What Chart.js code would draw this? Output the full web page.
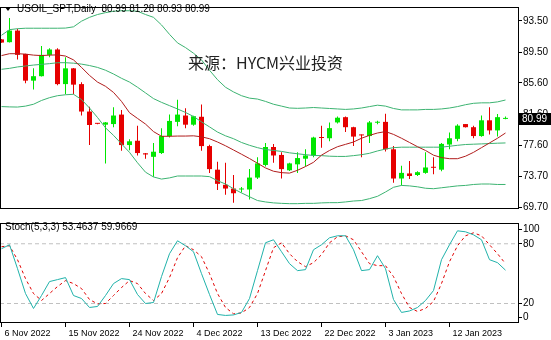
<!DOCTYPE html>
<html>
<head>
<meta charset="utf-8">
<script src="https://cdn.jsdelivr.net/npm/chart.js@4.4.1/dist/chart.umd.min.js"></script>
<style>
  html, body { margin: 0; padding: 0; background: #fff; }
  #wrap { position: relative; width: 551px; height: 340px; overflow: hidden; }
  #main { position: absolute; left: 0; top: 0; }
  #stoch { position: absolute; left: 0; top: 216px; }
</style>
</head>
<body>
<div id="wrap">
  <canvas id="main" width="551" height="216"></canvas>
  <canvas id="stoch" width="551" height="124"></canvas>
</div>
<script>
// дневные бары USOIL_SPT (с воскресными барами, как в MT4)
const dates = [
  "6 Nov 2022", "7 Nov 2022", "8 Nov 2022", "9 Nov 2022", "10 Nov 2022", "11 Nov 2022",
  "13 Nov 2022", "14 Nov 2022", "15 Nov 2022", "16 Nov 2022", "17 Nov 2022", "18 Nov 2022",
  "20 Nov 2022", "21 Nov 2022", "22 Nov 2022", "23 Nov 2022", "24 Nov 2022", "25 Nov 2022",
  "27 Nov 2022", "28 Nov 2022", "29 Nov 2022", "30 Nov 2022", "1 Dec 2022", "2 Dec 2022",
  "4 Dec 2022", "5 Dec 2022", "6 Dec 2022", "7 Dec 2022", "8 Dec 2022", "9 Dec 2022",
  "11 Dec 2022", "12 Dec 2022", "13 Dec 2022", "14 Dec 2022", "15 Dec 2022", "16 Dec 2022",
  "18 Dec 2022", "19 Dec 2022", "20 Dec 2022", "21 Dec 2022", "22 Dec 2022", "23 Dec 2022",
  "26 Dec 2022", "27 Dec 2022", "28 Dec 2022", "29 Dec 2022", "30 Dec 2022", "2 Jan 2023",
  "3 Jan 2023", "4 Jan 2023", "5 Jan 2023", "6 Jan 2023", "8 Jan 2023", "9 Jan 2023",
  "10 Jan 2023", "11 Jan 2023", "12 Jan 2023", "13 Jan 2023", "15 Jan 2023", "16 Jan 2023",
  "17 Jan 2023", "18 Jan 2023", "19 Jan 2023", "20 Jan 2023",
];

const open = [
  91.14, 90.78, 92.26, 89.28, 85.87, 86.44, 89.16, 89.85, 85.43, 87.44,
  85.43, 81.93, 80.42, 80.25, 80.33, 81.54, 77.65, 78.20, 76.60, 76.15,
  76.63, 78.80, 80.61, 81.42, 80.25, 81.26, 77.52, 74.51, 72.58, 72.10,
  71.98, 71.98, 73.50, 75.11, 77.40, 76.39, 74.43, 75.19, 75.91, 76.32,
  78.60, 78.52, 80.54, 81.21, 79.93, 78.95, 78.80, 80.50, 80.61, 77.11,
  73.38, 74.03, 73.83, 74.10, 74.80, 74.51, 77.72, 78.44, 80.33, 79.93,
  78.80, 80.81, 79.52, 80.99,
];
const high = [
  91.20, 93.86, 92.50, 89.30, 87.44, 90.30, 90.01, 90.01, 88.85, 87.50,
  85.67, 82.54, 80.45, 80.60, 82.46, 82.14, 78.40, 80.13, 76.63, 77.92,
  79.81, 81.54, 83.43, 82.34, 81.40, 82.83, 77.70, 75.51, 75.39, 73.83,
  72.30, 74.60, 76.11, 77.92, 77.80, 76.72, 75.40, 76.72, 77.10, 78.70,
  80.13, 80.54, 81.30, 81.30, 80.00, 79.00, 80.73, 80.75, 81.66, 77.52,
  75.00, 75.63, 74.30, 76.72, 76.11, 77.92, 79.25, 80.30, 80.35, 80.10,
  81.42, 82.46, 81.62, 81.28,
];
const low = [
  90.70, 90.75, 88.56, 85.55, 84.75, 86.40, 88.85, 85.27, 84.15, 84.15,
  81.42, 77.65, 80.30, 75.31, 79.93, 76.92, 77.00, 76.32, 75.91, 73.62,
  76.50, 78.61, 80.06, 79.81, 80.10, 76.92, 74.10, 71.90, 71.30, 70.30,
  71.60, 70.69, 73.31, 74.91, 75.39, 73.38, 74.35, 74.10, 74.91, 76.11,
  77.32, 78.13, 80.40, 79.33, 77.52, 76.11, 77.92, 80.30, 76.84, 72.83,
  72.50, 73.31, 73.70, 74.00, 73.91, 74.31, 77.11, 78.13, 79.90, 78.52,
  78.70, 79.01, 78.73, 80.93,
];
const close = [
  90.73, 92.26, 89.16, 85.87, 86.44, 89.16, 89.85, 85.43, 87.44, 85.36,
  81.93, 80.21, 80.36, 80.54, 81.42, 77.65, 78.13, 76.63, 76.45, 76.80,
  78.80, 80.73, 81.54, 80.25, 81.33, 77.52, 74.58, 72.70, 72.10, 71.50,
  72.05, 73.50, 75.31, 77.40, 76.32, 74.58, 75.31, 75.99, 76.32, 78.61,
  78.55, 79.81, 81.14, 79.93, 78.73, 78.88, 80.54, 80.60, 77.11, 73.38,
  74.10, 73.70, 74.19, 74.79, 74.75, 77.80, 78.52, 80.13, 79.93, 78.80,
  80.81, 79.52, 81.21, 80.99,
];

// полосы Боллинджера и красная скользящая
const bbUpper = [
  91.66, 92.38, 92.50, 92.56, 92.56, 92.56, 92.56, 92.56, 92.58, 92.74,
  93.46, 93.95, 94.31, 94.55, 94.73, 94.79, 94.79, 94.73, 94.31, 93.95,
  92.98, 91.78, 90.69, 90.09, 89.37, 88.52, 87.20, 85.99, 85.03, 84.43,
  83.95, 83.64, 83.52, 83.22, 82.86, 82.62, 82.38, 82.34, 82.38, 82.44,
  82.38, 82.32, 82.26, 82.20, 82.26, 82.38, 82.56, 82.74, 82.62, 82.32,
  82.14, 82.14, 82.14, 82.20, 82.20, 82.26, 82.38, 82.56, 82.80, 82.98,
  83.04, 83.04, 83.16, 83.40,
];
const bbMiddle = [
  87.32, 87.44, 87.62, 87.74, 87.86, 87.95, 88.04, 88.16, 88.16, 88.10,
  87.98, 87.80, 87.56, 87.20, 86.72, 86.17, 85.69, 85.03, 84.31, 83.58,
  83.10, 82.68, 82.26, 81.81, 81.30, 80.61, 79.97, 79.31, 78.83, 78.46,
  77.98, 77.62, 77.32, 77.08, 76.96, 76.84, 76.66, 76.54, 76.42, 76.32,
  76.30, 76.23, 76.20, 76.20, 76.30, 76.42, 76.60, 76.90, 77.14, 77.32,
  77.38, 77.38, 77.38, 77.38, 77.38, 77.38, 77.50, 77.62, 77.72, 77.76,
  77.80, 77.84, 77.89, 77.92,
];
const bbLower = [
  82.56, 82.52, 82.50, 82.62, 82.86, 83.34, 83.70, 83.95, 84.07, 84.13,
  83.46, 82.38, 81.17, 79.85, 78.89, 77.80, 76.72, 75.39, 74.19, 73.58,
  73.31, 73.46, 73.70, 73.70, 73.70, 73.70, 73.62, 73.10, 72.68, 72.08,
  71.54, 71.05, 70.57, 70.39, 70.27, 70.21, 70.17, 70.17, 70.21, 70.21,
  70.27, 70.30, 70.30, 70.39, 70.51, 70.57, 70.81, 71.11, 71.66, 72.26,
  72.50, 72.44, 72.32, 72.14, 72.08, 72.20, 72.32, 72.44, 72.50, 72.62,
  72.68, 72.68, 72.62, 72.62,
];
const maRed = [
  89.07, 89.31, 89.31, 89.25, 89.13, 89.07, 89.13, 89.16, 89.01, 88.52,
  87.56, 86.54, 85.69, 85.15, 84.37, 83.22, 81.78, 81.05, 80.33, 79.37,
  78.77, 78.77, 78.80, 78.80, 78.83, 78.70, 78.46, 78.04, 77.56, 77.02,
  76.48, 75.93, 75.33, 74.73, 74.31, 74.13, 74.07, 74.43, 74.91, 75.45,
  76.36, 76.96, 77.44, 77.74, 78.04, 78.52, 78.89, 79.19, 79.37, 79.01,
  78.52, 77.98, 77.44, 76.96, 76.36, 76.05, 75.91, 75.91, 76.23, 76.72,
  77.32, 77.92, 78.52, 79.19,
];

// Stoch(5,3,3)
const stochK = [
  75, 79, 55, 30, 15, 28, 42, 44, 46, 28,
  25, 16, 17, 28, 40, 45, 44, 29, 20, 21,
  47, 70, 83, 78, 72, 50, 29, 9, 8, 8.5,
  11, 25, 53, 81, 84, 72, 60, 53, 54, 74,
  79, 86, 88, 88, 74, 53, 54, 68, 55, 24,
  11, 12.5, 16, 23, 33, 64, 79, 93, 92, 89,
  84, 64, 61, 53.4637,
];
const stochD = [
  77, 78, 64, 45, 30, 23, 30, 37, 43, 40,
  35, 24, 19.6, 20, 28, 36, 43, 40, 30, 23,
  30, 46, 66, 78, 74, 67, 50, 30, 16, 9.6,
  10.5, 16, 30, 53, 76, 81, 70, 62, 57, 61,
  69, 81, 87, 88, 84, 72, 60, 58, 58, 47,
  30, 16, 12, 15, 22, 40, 62, 78, 88, 91,
  88, 79, 70, 59.9669,
];

const priceTicks = [93.5, 89.5, 85.6, 81.6, 77.6, 73.7, 69.7];
const stochTicks = [100, 80, 20, 0];
const stochLevels = [80, 20];
const dateTicks = [0, 8, 16, 24, 32, 40, 48, 56];

const BULL = "#00e600";
const BEAR = "#e60000";
const BAND = "#3cb371";
const MA_COLOR = "#b01c1c";

// 8 px на бар, правая шкала 33 px
const X_MIN = -0.1875;
const X_MAX = 64.5625;
const AXIS_W = 33;

Chart.defaults.font.family = "'Liberation Sans', Arial, sans-serif";
Chart.defaults.font.size = 10;
Chart.defaults.color = "#000";

const last = close.length - 1;
const idx = dates.map((_, i) => i);
const pts = (arr) => arr.map((v, i) => ({ x: i, y: v }));
const candleColor = (i) => (close[i] >= open[i] ? BULL : BEAR);

function lineSet(arr, color, extra) {
  return Object.assign({
    type: "line",
    data: pts(arr),
    borderColor: color,
    borderWidth: 1,
    pointRadius: 0,
    tension: 0,
    fill: false,
  }, extra || {});
}

const frame = {
  id: "frame",
  afterDatasetsDraw(chart) {
    const { ctx, chartArea: a } = chart;
    ctx.save();
    ctx.strokeStyle = "#000";
    ctx.lineWidth = 1;
    ctx.strokeRect(a.left + 0.5, a.top + 0.5, a.right - a.left, a.bottom - a.top - 1);
    ctx.restore();
  },
};

const mainTexts = {
  id: "mainTexts",
  afterDraw(chart) {
    const g = chart.ctx;
    g.save();
    // заголовок
    g.fillStyle = "#000";
    g.beginPath();
    g.moveTo(5, 7);
    g.lineTo(11, 7);
    g.lineTo(8, 11);
    g.closePath();
    g.fill();
    g.font = "10px 'Liberation Sans', Arial, sans-serif";
    g.textBaseline = "middle";
    const ohlc = [open, high, low, close].map((a) => a[last].toFixed(2)).join(" ");
    g.fillText("USOIL_SPT,Daily  " + ohlc, 17, 9);

    // водяной знак
    g.fillStyle = "#222";
    g.font = "16px 'Noto Sans CJK SC', sans-serif";
    g.fillText("来源：HYCM兴业投资", 188, 63);

    // метка текущей цены
    const y = Math.round(chart.scales.y.getPixelForValue(close[last]));
    g.fillStyle = "#000";
    g.fillRect(519, y - 6, 32, 12);
    g.fillStyle = "#fff";
    g.font = "10px 'Liberation Sans', Arial, sans-serif";
    g.fillText(close[last].toFixed(2), 522, y);
    g.restore();
  },
};

new Chart(document.getElementById("main"), {
  type: "bar",
  data: {
    datasets: [
      lineSet(maRed, MA_COLOR),
      lineSet(bbUpper, BAND),
      lineSet(bbMiddle, BAND),
      lineSet(bbLower, BAND),
      {
        data: idx.map((i) => ({ x: i, y: [open[i], close[i]] })),
        backgroundColor: idx.map(candleColor),
        grouped: false,
        maxBarThickness: 5,
        minBarLength: 1,
        borderWidth: 0,
      },
      {
        data: idx.map((i) => ({ x: i, y: [low[i], high[i]] })),
        backgroundColor: idx.map(candleColor),
        grouped: false,
        maxBarThickness: 1,
        borderWidth: 0,
      },
    ],
  },
  options: {
    responsive: false,
    animation: false,
    events: [],
    layout: { padding: { top: 1, bottom: 1, left: 0, right: 0 } },
    plugins: { legend: { display: false }, tooltip: { enabled: false } },
    scales: {
      x: { type: "linear", min: X_MIN, max: X_MAX, offset: false, display: false },
      y: {
        position: "right",
        min: 69.49,
        max: 95.27,
        afterFit: (s) => { s.width = AXIS_W; },
        afterBuildTicks: (s) => { s.ticks = priceTicks.map((v) => ({ value: v })); },
        ticks: { callback: (v) => Number(v).toFixed(2), padding: 1, color: "#000" },
        grid: { drawOnChartArea: false, tickLength: 4, color: "#000" },
        border: { display: false },
      },
    },
  },
  plugins: [frame, mainTexts],
});

const stochTexts = {
  id: "stochTexts",
  afterDraw(chart) {
    const g = chart.ctx;
    g.save();
    g.fillStyle = "#000";
    g.font = "10px 'Liberation Sans', Arial, sans-serif";
    g.textBaseline = "middle";
    g.fillText("Stoch(5,3,3) " + stochK[last].toFixed(4) + " " + stochD[last].toFixed(4), 5, 11);
    g.restore();
  },
};

new Chart(document.getElementById("stoch"), {
  type: "line",
  data: {
    datasets: [
      lineSet(stochK, "#20b2aa"),
      lineSet(stochD, "#e00000", { borderDash: [3, 3] }),
      ...stochLevels.map((v) => ({
        data: [{ x: X_MIN, y: v }, { x: X_MAX, y: v }],
        borderColor: "#c0c0c0",
        borderWidth: 1,
        borderDash: [4, 3],
        pointRadius: 0,
      })),
    ],
  },
  options: {
    responsive: false,
    animation: false,
    events: [],
    layout: { padding: { top: 1, bottom: 0, left: 0, right: 0 } },
    plugins: { legend: { display: false }, tooltip: { enabled: false } },
    scales: {
      x: {
        type: "linear",
        min: X_MIN,
        max: X_MAX,
        offset: false,
        afterFit: (s) => { s.height = 17; },
        afterBuildTicks: (s) => { s.ticks = dateTicks.map((v) => ({ value: v })); },
        ticks: {
          callback: (v) => dates[v],
          align: "start",
          labelOffset: 3,
          maxRotation: 0,
          autoSkip: false,
          padding: 1,
          color: "#000",
          font: { size: 9 },
        },
        grid: { drawOnChartArea: false, tickLength: 4, color: "#000" },
        border: { display: false },
      },
      y: {
        position: "right",
        min: 0.4,
        max: 100.85,
        afterFit: (s) => { s.width = AXIS_W; },
        // крайние подписи (100 и 0) MT4 сдвигает внутрь панели
        afterBuildTicks: (s) => {
          s.ticks = stochTicks.map((v) => ({ value: Math.min(Math.max(v, 6.1), 94.2) }));
        },
        ticks: { callback: (v, i) => String(stochTicks[i]), padding: 1, color: "#000" },
        grid: { drawOnChartArea: false, tickLength: 4, color: "#000" },
        border: { display: false },
      },
    },
  },
  plugins: [frame, stochTexts],
});
</script>
</body>
</html>
